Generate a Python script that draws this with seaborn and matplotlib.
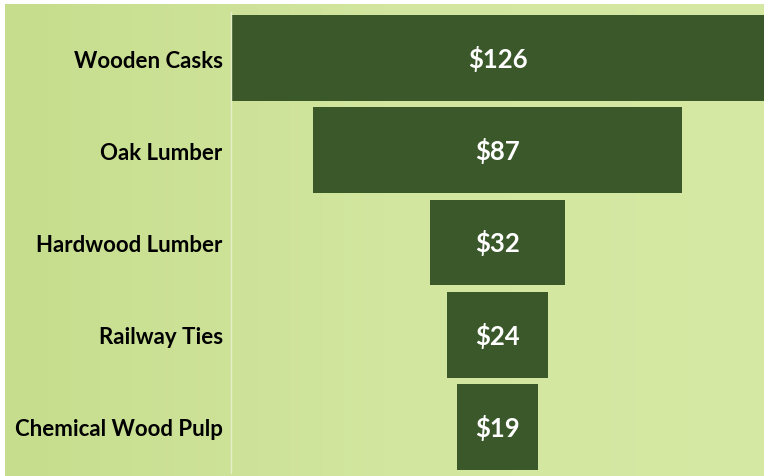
import numpy as np
import pandas as pd
import matplotlib
matplotlib.use('Agg')
from matplotlib import pyplot as plt
import seaborn as sns

categories = ['Wooden Casks', 'Oak Lumber', 'Hardwood Lumber', 'Railway Ties', 'Chemical Wood Pulp']
values = [126, 87, 32, 24, 19]
labels = ['$126', '$87', '$32', '$24', '$19']

df = pd.DataFrame({'product': categories, 'value': values})
df['half'] = df['value'] / 2
df['neg_half'] = -df['value'] / 2

sns.set_theme(style='white')
plt.rcParams['font.family'] = ['Lato', 'DejaVu Sans']

fig = plt.figure(figsize=(7.64, 4.77), dpi=100)
fig.patch.set_facecolor('white')

# green background (simple gradient in place of the texture)
bg = fig.add_axes([5 / 764, 0, 759 / 764, 472 / 477])
grad = np.linspace(0, 1, 256)[None, :]
cmap = matplotlib.colors.LinearSegmentedColormap.from_list('bg', ['#c6dd8d', '#d2e69f', '#d6e9a4'])
bg.imshow(grad, aspect='auto', cmap=cmap, extent=[0, 1, 0, 1])
bg.axis('off')

ax = fig.add_axes([231 / 764, 3 / 477, 533 / 764, 461 / 477])
ax.patch.set_alpha(0)
bar_color = '#3b582b'
# funnel: two half bars mirrored around zero
sns.barplot(data=df, x='half', y='product', color=bar_color, width=0.93,
            saturation=1, ax=ax, orient='h', linewidth=0, edgecolor=bar_color)
sns.barplot(data=df, x='neg_half', y='product', color=bar_color, width=0.93,
            saturation=1, ax=ax, orient='h', linewidth=0, edgecolor=bar_color)

ax.set_xlim(-63, 63)
ax.set_xlabel('')
ax.set_ylabel('')
ax.set_xticks([])
ax.tick_params(axis='y', length=0, pad=6)
for t in ax.get_yticklabels():
    t.set_fontsize(16)
    t.set_fontweight('bold')
    t.set_color('black')

for i, lab in enumerate(labels):
    ax.text(0, i, lab, ha='center', va='center', color='white',
            fontsize=18.5, fontweight='bold')

for s in ['top', 'right', 'bottom']:
    ax.spines[s].set_visible(False)
ax.spines['left'].set_color('#e3eecb')
ax.spines['left'].set_linewidth(1)

fig.savefig('out.png', dpi=100)
